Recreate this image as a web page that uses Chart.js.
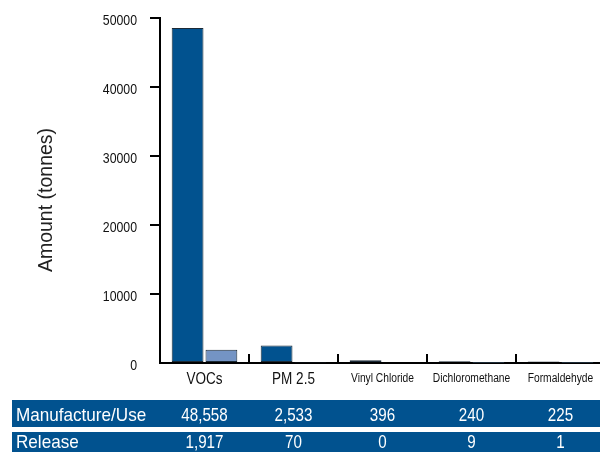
<!DOCTYPE html>
<html>
<head>
<meta charset="utf-8">
<script src="https://cdn.jsdelivr.net/npm/chart.js@4/dist/chart.umd.min.js"></script>
<style>
  html, body { margin: 0; padding: 0; background: #fff; overflow: hidden; }
  canvas { display: block; }
</style>
</head>
<body>
<canvas id="chart" width="606" height="452"></canvas>
<script>
// Substances and the two quantities reported for each (tonnes)
const categories = ['VOCs', 'PM 2.5', 'Vinyl Chloride', 'Dichloromethane', 'Formaldehyde'];
const manufactureUse = [48558, 2533, 396, 240, 225];
const release = [1917, 70, 0, 9, 1];
const seriesNames = ['Manufacture/Use', 'Release'];
const yTickValues = [0, 10000, 20000, 30000, 40000, 50000];
const yAxisTitle = 'Amount (tonnes)';

const SANS = '"Liberation Sans", Arial, sans-serif';
const DARK_BLUE = '#01528f';
const LIGHT_BLUE = '#7494c4';
const INK = '#111';

// Draws condensed text by squeezing a regular face horizontally
function narrowText(ctx, text, x, y, size, align, squeeze, color) {
  ctx.save();
  ctx.font = size + 'px ' + SANS;
  ctx.fillStyle = color;
  ctx.textBaseline = 'middle';
  ctx.textAlign = align;
  ctx.translate(x, y);
  ctx.scale(squeeze, 1);
  ctx.fillText(text, 0, 0);
  ctx.restore();
}

// Axis labels and the small upward ticks between categories
const axisDecor = {
  id: 'axisDecor',
  afterDatasetsDraw(chart) {
    const { ctx, scales: { x, y }, chartArea } = chart;
    ctx.save();
    ctx.strokeStyle = '#000';
    ctx.lineWidth = 2;
    for (let i = 0; i < categories.length - 1; i++) {
      const px = Math.round((x.getPixelForValue(i) + x.getPixelForValue(i + 1)) / 2);
      ctx.beginPath();
      ctx.moveTo(px, chartArea.bottom);
      ctx.lineTo(px, chartArea.bottom - 9);
      ctx.stroke();
    }
    ctx.restore();

    // y tick labels
    yTickValues.forEach(v => {
      narrowText(ctx, String(v), 137, y.getPixelForValue(v) + 2.5, 15, 'right', 0.82, INK);
    });

    // category labels
    categories.forEach((c, i) => {
      const size = i < 2 ? 16.5 : 12.5;
      narrowText(ctx, c, x.getPixelForValue(i), 379, size, 'center', 0.82, INK);
    });

    // y axis title
    ctx.save();
    ctx.translate(47, 200);
    ctx.rotate(-Math.PI / 2);
    ctx.font = '19.5px ' + SANS;
    ctx.fillStyle = '#222';
    ctx.textAlign = 'center';
    ctx.textBaseline = 'middle';
    ctx.fillText(yAxisTitle, 0, 0);
    ctx.restore();
  }
};

// Data table under the chart, one band per series
const dataTable = {
  id: 'dataTable',
  afterDraw(chart) {
    const { ctx, scales: { x } } = chart;
    const rows = [
      { name: seriesNames[0], values: manufactureUse, top: 400, height: 27, cy: 415.5 },
      { name: seriesNames[1], values: release, top: 432, height: 24, cy: 443 }
    ];
    rows.forEach(row => {
      ctx.fillStyle = DARK_BLUE;
      ctx.fillRect(12, row.top, chart.width - 12, row.height);
      narrowText(ctx, row.name, 16, row.cy, 19, 'left', 0.9, '#fff');
      row.values.forEach((v, i) => {
        narrowText(ctx, v.toLocaleString('en-US'), x.getPixelForValue(i), row.cy, 18.5, 'center', 0.82, '#fff');
      });
    });
  }
};

new Chart(document.getElementById('chart'), {
  type: 'bar',
  data: {
    labels: categories,
    datasets: [
      {
        label: seriesNames[0],
        data: manufactureUse,
        backgroundColor: DARK_BLUE,
        borderColor: '#1c2a36',
        borderWidth: 1,
        borderSkipped: false,
        categoryPercentage: 0.76,
        barPercentage: 0.94
      },
      {
        label: seriesNames[1],
        data: release,
        backgroundColor: LIGHT_BLUE,
        borderColor: '#1c2a36',
        borderWidth: 1,
        borderSkipped: false,
        categoryPercentage: 0.76,
        barPercentage: 0.94
      }
    ]
  },
  options: {
    responsive: false,
    animation: false,
    devicePixelRatio: 1,
    layout: { padding: { top: 18, left: 0, right: 1, bottom: 0 } },
    plugins: {
      legend: { display: false },
      tooltip: { enabled: false }
    },
    scales: {
      x: {
        grid: { display: false, drawTicks: false },
        border: { display: true, color: '#000', width: 2 },
        ticks: { display: false },
        afterFit(scale) { scale.height = 89; }
      },
      y: {
        min: 0,
        max: 50000,
        afterBuildTicks(scale) {
          scale.ticks = yTickValues.map(v => ({ value: v }));
        },
        grid: {
          drawOnChartArea: false,
          drawTicks: true,
          tickLength: 10,
          lineWidth: 2,
          color: ctx => (ctx.tick && ctx.tick.value === 0) ? 'rgba(0,0,0,0)' : '#000'
        },
        border: { display: true, color: '#000', width: 2 },
        ticks: { display: false },
        afterFit(scale) { scale.width = 160; }
      }
    }
  },
  plugins: [axisDecor, dataTable]
});
</script>
</body>
</html>
